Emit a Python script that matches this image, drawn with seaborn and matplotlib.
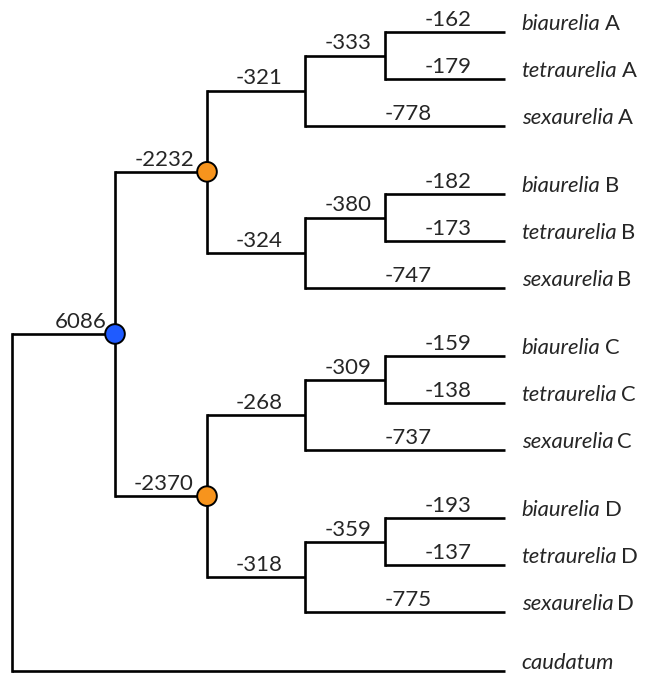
import matplotlib
matplotlib.use("Agg")
import matplotlib.pyplot as plt
import seaborn as sns
import pandas as pd

# ---- data ---------------------------------------------------------------
groups = ["A", "B", "C", "D"]
species = ["biaurelia", "tetraurelia", "sexaurelia"]
biaurelia_vals = [-162, -182, -159, -193]
tetraurelia_vals = [-179, -173, -138, -137]
sexaurelia_vals = [-778, -747, -737, -775]
pair_vals = [-333, -380, -309, -359]      # stem of biaurelia + tetraurelia
triplet_vals = [-321, -324, -268, -318]   # stem of each A/B/C/D clade
wgd_vals = [-2232, -2370]                 # ancestors of A+B and C+D
aurelia_val = 6086                        # ancestor of the aurelia complex
outgroup = "caudatum"

# ---- style / layout -----------------------------------------------------
sns.set_theme(style="white")
plt.rcParams["font.family"] = ["Lato", "DejaVu Sans"]

LINE_W = 1.9
NUM_SIZE = 16
NAME_SIZE = 15.8
NODE_COLORS = {"aurelia": "#1F5BFF", "wgd": "#F7941D"}
COLUMN_X = [12, 115, 207, 305, 385]   # x of internal nodes by depth
LEAF_X = 505
GAP_WITHIN, GAP_CLADE, GAP_OUT = 1.0, 1.45, 1.25


def node(children=(), value=None, name=None, letter="", group=None,
         marker=None, label_ha="center"):
    return dict(children=list(children), value=value, name=name,
                letter=letter, group=group, marker=marker, label_ha=label_ha)


clades = []
for i, g in enumerate(groups):
    bia = node(value=biaurelia_vals[i], name=species[0], letter=g, group=i)
    tet = node(value=tetraurelia_vals[i], name=species[1], letter=g, group=i)
    sex = node(value=sexaurelia_vals[i], name=species[2], letter=g, group=i)
    pair = node([bia, tet], value=pair_vals[i])
    clades.append(node([pair, sex], value=triplet_vals[i]))

wgd_nodes = [node(clades[2 * j:2 * j + 2], value=wgd_vals[j], marker="wgd")
             for j in range(len(wgd_vals))]
aurelia = node(wgd_nodes, value=aurelia_val, marker="aurelia", label_ha="right")
root = node([aurelia, node(name=outgroup, group=len(groups))])

# ---- layout: leaves stacked top to bottom, parents at child midpoint -----
leaves = []


def collect(n, depth):
    n["depth"] = depth
    if not n["children"]:
        leaves.append(n)
    for c in n["children"]:
        collect(c, depth + 1)


collect(root, 0)
y = 0.0
for k, lf in enumerate(leaves):
    if k > 0:
        prev = leaves[k - 1]["group"]
        if lf["group"] == prev:
            y += GAP_WITHIN
        elif lf["group"] == len(groups):
            y += GAP_OUT
        else:
            y += GAP_CLADE
    lf["y"] = y
    lf["x"] = LEAF_X


def place(n):
    if n["children"]:
        for c in n["children"]:
            place(c)
        n["y"] = sum(c["y"] for c in n["children"]) / len(n["children"])
        n["x"] = COLUMN_X[n["depth"]]


place(root)

# ---- segment tables: horizontal stems and vertical bars ------------------
stems, bars, labels, markers = [], [], [], []
sid = 0
bid = 0


def walk(n):
    global sid, bid
    if n["children"]:
        ys = [c["y"] for c in n["children"]]
        for py in (min(ys), max(ys)):
            bars.append(dict(seg=bid, x=n["x"], y=py))
        bid += 1
    for c in n["children"]:
        for px in (n["x"], c["x"]):
            stems.append(dict(seg=sid, x=px, y=c["y"]))
        sid += 1
        if c["value"] is not None:
            labels.append((c, n))
        if c["marker"]:
            markers.append(dict(x=c["x"], y=c["y"], kind=c["marker"]))
        walk(c)


walk(root)
stems = pd.DataFrame(stems)
bars = pd.DataFrame(bars)
marks = pd.DataFrame(markers)

fig = plt.figure(figsize=(6.46, 6.73), dpi=100)
ax = fig.add_axes([0, 0, 1, 1])
unit = 47.0
ax.set_xlim(0, 646)
ax.set_ylim((673 - 32) / unit, -32 / unit)
ax.axis("off")

sns.lineplot(data=stems, x="x", y="y", units="seg", estimator=None,
             sort=False, color="black", linewidth=LINE_W, legend=False,
             ax=ax, solid_capstyle="butt")
sns.lineplot(data=bars, x="x", y="y", units="seg", estimator=None,
             sort=False, color="black", linewidth=LINE_W, legend=False,
             ax=ax, solid_capstyle="projecting", orient="y")

sns.scatterplot(data=marks, x="x", y="y", hue="kind", palette=NODE_COLORS,
                s=200, edgecolor="black", linewidth=1.4, legend=False,
                ax=ax, zorder=4)

# branch values above each branch
for c, p in labels:
    if c["label_ha"] == "right":
        ax.annotate(f"{c['value']}", xy=(c["x"], c["y"]), xytext=(-6, 4.5),
                    textcoords="offset points", ha="right", va="baseline",
                    fontsize=NUM_SIZE)
    else:
        ax.annotate(f"{c['value']}", xy=((c["x"] + p["x"]) / 2 + 3, c["y"]),
                    xytext=(0, 4.5), textcoords="offset points", ha="center",
                    va="baseline", fontsize=NUM_SIZE)

# leaf names: italic species epithet followed by upright letter
for lf in leaves:
    t = ax.annotate(lf["name"], xy=(lf["x"], lf["y"]), xytext=(12, 1.5),
                    textcoords="offset points", ha="left", va="baseline",
                    fontsize=NAME_SIZE, style="italic")
    if lf["letter"]:
        ax.annotate(lf["letter"], xy=(1, 0), xycoords=t, xytext=(3, 0),
                    textcoords="offset points", ha="left", va="bottom",
                    fontsize=NAME_SIZE)

fig.savefig("out.png", dpi=100, facecolor="white")
